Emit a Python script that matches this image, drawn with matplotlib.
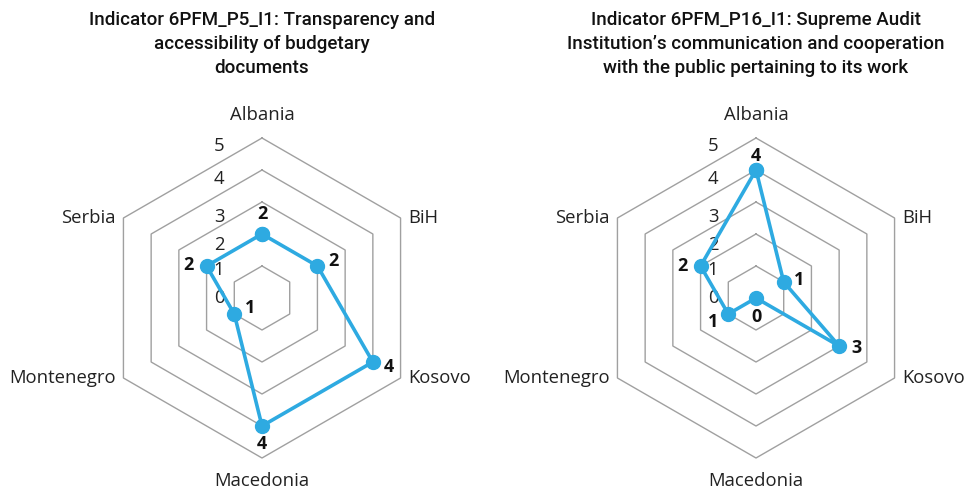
import numpy as np
import matplotlib.pyplot as plt

countries = ["Albania", "BiH", "Kosovo", "Macedonia", "Montenegro", "Serbia"]
p5_values = [2, 2, 4, 4, 1, 2]
p16_values = [4, 1, 3, 0, 1, 2]
titles = [
    "Indicator 6PFM_P5_I1: Transparency and\naccessibility of budgetary\ndocuments",
    "Indicator 6PFM_P16_I1: Supreme Audit\nInstitution\u2019s communication and cooperation\nwith the public pertaining to its work",
]
levels = [0, 1, 2, 3, 4, 5]

BLUE = "#2eaae1"
GRID = "#a0a0a0"
PX = 32.0  # pixels per unit
title_font = "Roboto"
body_font = "Open Sans"

# offsets (pixels) for the value labels
p5_offsets = [(0, 20), (16, 5), (16, -5), (0, -18), (16, 6), (-18, 1)]
p16_offsets = [(0, 14), (15, 2), (17, -2), (0, -19), (-15, -8), (-18, 0)]
tick_y_px = [0, 28, 53, 81, 119, 152]


def radar(fig, cx, title, values, offsets):
    w, h = 969, 493
    half = 240
    ax = fig.add_axes([(cx - half) / w, 0, 2 * half / w, 1])
    ax.set_xlim(-half / PX, half / PX)
    ax.set_ylim(-195 / PX, (h - 195) / PX)
    ax.set_aspect("equal")
    ax.axis("off")

    n = len(countries)
    ang = np.deg2rad(90 - 360 / n * np.arange(n))
    ca, sa = np.cos(ang), np.sin(ang)

    for r in levels[1:]:
        ax.plot(np.append(ca, ca[0]) * r, np.append(sa, sa[0]) * r,
                color=GRID, lw=1.0, zorder=1)

    # category labels
    rl = 5.0
    for name, c, s in zip(countries, ca, sa):
        if abs(c) < 0.1:
            ax.text(0, s * (rl + 0.72), name, ha="center", va="center",
                    fontsize=13.3, family=body_font, color="#222222")
        else:
            ax.text(c * rl + np.sign(c) * 0.25, s * rl, name,
                    ha="left" if c > 0 else "right", va="center",
                    fontsize=13.3, family=body_font, color="#222222")

    # radial tick labels
    for lv, ty in zip(levels, tick_y_px):
        ax.text(-43 / PX, ty / PX, str(lv), ha="center", va="center",
                fontsize=13.3, family=body_font, color="#222222")

    v = np.array(values, dtype=float)
    xs, ys = v * ca, v * sa
    ax.plot(np.append(xs, xs[0]), np.append(ys, ys[0]), color=BLUE, lw=2.6,
            marker="o", markersize=10, zorder=3, solid_joinstyle="miter")

    for x, y, val, (dx, dy) in zip(xs, ys, values, offsets):
        ax.annotate(str(val), (x, y), xytext=(dx * 0.72, dy * 0.72),
                    textcoords="offset points", ha="center", va="center",
                    fontsize=13, fontweight="bold", family=body_font,
                    color="#111111", zorder=4)

    ax.text(0.5, 1 - 11 / h, title, transform=ax.transAxes, ha="center",
            va="top", fontsize=13.5, fontweight="medium", family=title_font,
            linespacing=1.42, color="#111111")
    return ax


fig = plt.figure(figsize=(9.69, 4.93), dpi=100)
radar(fig, 262, titles[0], p5_values, p5_offsets)
radar(fig, 756, titles[1], p16_values, p16_offsets)
fig.savefig("out.png", dpi=100, facecolor="white")
